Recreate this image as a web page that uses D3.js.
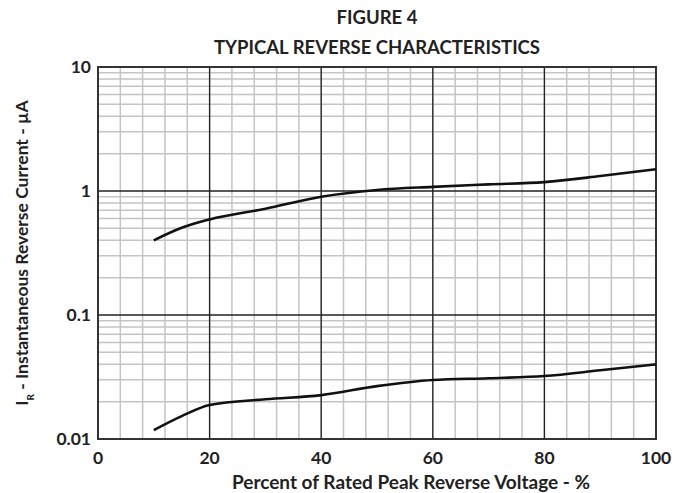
<!doctype html>
<html lang="en">
<head>
  <meta charset="utf-8">
  <script src="https://d3js.org/d3.v7.min.js"></script>
  <style>
    body { margin: 0; background: #fff; }
    text { font-family: Lato, "Open Sans", sans-serif; font-weight: bold; fill: #222; }
  </style>
</head>
<body>
  <svg id="chart" width="679" height="493"></svg>
  <script>
    // values
    const percent = [10, 15, 20, 30, 40, 50, 60, 70, 80, 90, 100];
    const upperCurrent = [0.40, 0.505, 0.59, 0.72, 0.90, 1.02, 1.08, 1.13, 1.18, 1.32, 1.50];
    const lowerCurrent = [0.0118, 0.0153, 0.0188, 0.0209, 0.0226, 0.0267, 0.0299, 0.0309, 0.0322, 0.0358, 0.040];
    const xTicks = [0, 20, 40, 60, 80, 100];
    const yTicks = [0.01, 0.1, 1, 10];
    const yTickLabels = ["0.01", "0.1", "1", "10"];

    const width = 679, height = 493;
    const margin = {top: 67, right: 23, bottom: 54, left: 98};

    const svg = d3.select("#chart");

    const x = d3.scaleLinear()
        .domain([0, 100])
        .range([margin.left, width - margin.right]);

    const y = d3.scaleLog()
        .domain([0.01, 10])
        .range([height - margin.bottom, margin.top]);

    // minor grid
    const minorX = d3.range(0, 101, 4);
    const minorY = [];
    yTicks.slice(0, 3).forEach(d => { for (let k = 2; k <= 9; k++) minorY.push(d * k); });

    const grid = svg.append("g");
    grid.selectAll(".mx")
      .data(minorX)
      .join("line")
        .attr("x1", d => x(d)).attr("x2", d => x(d))
        .attr("y1", y(10)).attr("y2", y(0.01))
        .attr("stroke", "#c4c4c4").attr("stroke-width", 1.5);
    grid.selectAll(".my")
      .data(minorY)
      .join("line")
        .attr("x1", x(0)).attr("x2", x(100))
        .attr("y1", d => y(d)).attr("y2", d => y(d))
        .attr("stroke", "#c4c4c4").attr("stroke-width", 1.5);

    // major grid
    grid.selectAll(".Mx")
      .data(xTicks)
      .join("line")
        .attr("x1", d => x(d)).attr("x2", d => x(d))
        .attr("y1", y(10)).attr("y2", y(0.01))
        .attr("stroke", "#222").attr("stroke-width", 1.3);
    grid.selectAll(".My")
      .data(yTicks)
      .join("line")
        .attr("x1", x(0)).attr("x2", x(100))
        .attr("y1", d => y(d)).attr("y2", d => y(d))
        .attr("stroke", "#222").attr("stroke-width", 1.3);

    svg.append("rect")
        .attr("x", x(0)).attr("y", y(10))
        .attr("width", x(100) - x(0)).attr("height", y(0.01) - y(10))
        .attr("fill", "none").attr("stroke", "#333").attr("stroke-width", 2);

    // curves
    const line = d3.line()
        .curve(d3.curveMonotoneX)
        .x((d, i) => x(percent[i]))
        .y(d => y(d));

    [upperCurrent, lowerCurrent].forEach(s => {
      svg.append("path")
          .attr("d", line(s))
          .attr("fill", "none")
          .attr("stroke", "#111")
          .attr("stroke-width", 2.6);
    });

    // tick labels
    svg.append("g").selectAll("text")
      .data(xTicks)
      .join("text")
        .attr("x", d => x(d))
        .attr("y", 464)
        .attr("text-anchor", "middle")
        .attr("font-size", 17.5)
        .text(d => d);

    svg.append("g").selectAll("text")
      .data(yTicks)
      .join("text")
        .attr("x", 91)
        .attr("y", d => y(d) + 6)
        .attr("text-anchor", "end")
        .attr("font-size", 17.5)
        .text((d, i) => yTickLabels[i]);

    // titles
    const cx = (x(0) + x(100)) / 2;
    svg.append("text")
        .attr("x", cx).attr("y", 24)
        .attr("text-anchor", "middle")
        .attr("font-size", 18.5)
        .text("FIGURE 4");
    svg.append("text")
        .attr("x", cx).attr("y", 54)
        .attr("text-anchor", "middle")
        .attr("font-size", 18.5)
        .text("TYPICAL REVERSE CHARACTERISTICS");

    svg.append("text")
        .attr("x", 411).attr("y", 489)
        .attr("text-anchor", "middle")
        .attr("font-size", 19)
        .text("Percent of Rated Peak Reverse Voltage - %");

    const yl = svg.append("text")
        .attr("transform", "translate(28,253) rotate(-90)")
        .attr("text-anchor", "middle")
        .attr("font-size", 17.5);
    yl.append("tspan").text("I");
    yl.append("tspan").attr("font-size", 10).attr("dy", 6).text("R");
    yl.append("tspan").attr("dy", -6).text(" - Instantaneous Reverse Current - µA");
  </script>
</body>
</html>
